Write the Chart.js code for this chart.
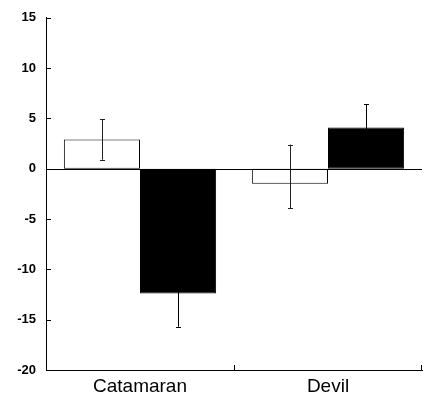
<!DOCTYPE html>
<html>
<head>
<meta charset="utf-8">
<script src="https://cdn.jsdelivr.net/npm/chart.js@4.4.0/dist/chart.umd.min.js"></script>
<style>
  html, body { margin: 0; padding: 0; background: #fff; }
  #wrap { width: 424px; height: 399px; position: relative; }
</style>
</head>
<body>
<div id="wrap"><canvas id="chart"></canvas></div>
<script>
// Datos
const categories = ['Catamaran', 'Devil'];
const openValues = [2.9, -1.5];
const filledValues = [-12.4, 4.1];
// Barras de error (hasta dónde llegan por arriba / por abajo)
const openErrUp = [2.0, 3.9];
const openErrDown = [2.0, 2.4];
const filledErrUp = [3.3, 2.3];
const filledErrDown = [3.3, 2.3];
const yTicks = [15, 10, 5, 0, -5, -10, -15, -20];

/**
 * Dibuja barras de error, la línea del cero y las marcas hacia dentro
 */
const extrasPlugin = {
    id: 'extras',
    afterDatasetsDraw(chart) {
        const ctx = chart.ctx;
        const x = chart.scales.x;
        const y = chart.scales.y;
        const area = chart.chartArea;
        ctx.save();

        // línea del cero
        ctx.strokeStyle = '#000';
        ctx.lineWidth = 1;
        const y0 = Math.round(y.getPixelForValue(0)) + 0.5;
        ctx.beginPath();
        ctx.moveTo(area.left, y0);
        ctx.lineTo(area.right, y0);
        ctx.stroke();

        // barras de error
        const errs = [[openErrUp, openErrDown], [filledErrUp, filledErrDown]];
        chart.data.datasets.forEach((ds, di) => {
            const meta = chart.getDatasetMeta(di);
            meta.data.forEach((bar, i) => {
                const v = ds.data[i];
                const cx = Math.round(bar.x) + 0.5;
                const top = y.getPixelForValue(v + errs[di][0][i]);
                const bot = y.getPixelForValue(v - errs[di][1][i]);
                ctx.strokeStyle = di === 1 ? '#000' : '#222';
                ctx.beginPath();
                ctx.moveTo(cx, top);
                ctx.lineTo(cx, bot);
                ctx.moveTo(cx - 2.5, Math.round(top) + 0.5);
                ctx.lineTo(cx + 2.5, Math.round(top) + 0.5);
                ctx.moveTo(cx - 2.5, Math.round(bot) + 0.5);
                ctx.lineTo(cx + 2.5, Math.round(bot) + 0.5);
                ctx.stroke();
            });
        });

        // marcas del eje Y hacia dentro
        ctx.strokeStyle = '#000';
        yTicks.forEach(t => {
            const py = Math.round(y.getPixelForValue(t)) + 0.5;
            ctx.beginPath();
            ctx.moveTo(area.left, py);
            ctx.lineTo(area.left + 5, py);
            ctx.stroke();
        });

        // marcas del eje X en los límites de categoría
        for (let i = 0; i <= categories.length; i++) {
            const px = Math.round(x.getPixelForValue(i - 0.5));
            const lx = Math.min(px, Math.round(area.right) - 1) + 0.5;
            ctx.beginPath();
            ctx.moveTo(lx, area.bottom);
            ctx.lineTo(lx, area.bottom - 5);
            ctx.stroke();
        }
        ctx.restore();
    }
};

const canvas = document.getElementById('chart');
new Chart(canvas, {
    type: 'bar',
    data: {
        labels: categories,
        datasets: [
            {
                data: openValues,
                backgroundColor: '#fff',
                borderColor: '#000',
                borderWidth: 1,
                borderSkipped: false
            },
            {
                data: filledValues,
                backgroundColor: '#000',
                borderColor: '#000',
                borderWidth: 1,
                borderSkipped: false
            }
        ]
    },
    options: {
        responsive: true,
        maintainAspectRatio: false,
        animation: false,
        datasets: {
            bar: { categoryPercentage: 0.81, barPercentage: 1 }
        },
        layout: { padding: { top: 15, right: 2, left: 0, bottom: 0 } },
        plugins: {
            legend: { display: false },
            tooltip: { enabled: false }
        },
        scales: {
            x: {
                grid: { display: false, drawTicks: false },
                border: { display: true, color: '#000', width: 1 },
                ticks: {
                    color: '#000',
                    padding: 5,
                    font: { family: 'Liberation Sans, Arial, sans-serif', size: 19 }
                },
                afterFit: s => { s.height = 29; }
            },
            y: {
                min: -20,
                max: 15,
                grid: { display: false, drawTicks: false },
                border: { display: true, color: '#000', width: 1 },
                ticks: {
                    stepSize: 5,
                    color: '#000',
                    padding: 10,
                    font: { family: 'Liberation Sans, Arial, sans-serif', size: 13, weight: 'bold' }
                },
                afterFit: s => { s.width = 46; }
            }
        }
    },
    plugins: [extrasPlugin]
});
</script>
</body>
</html>
